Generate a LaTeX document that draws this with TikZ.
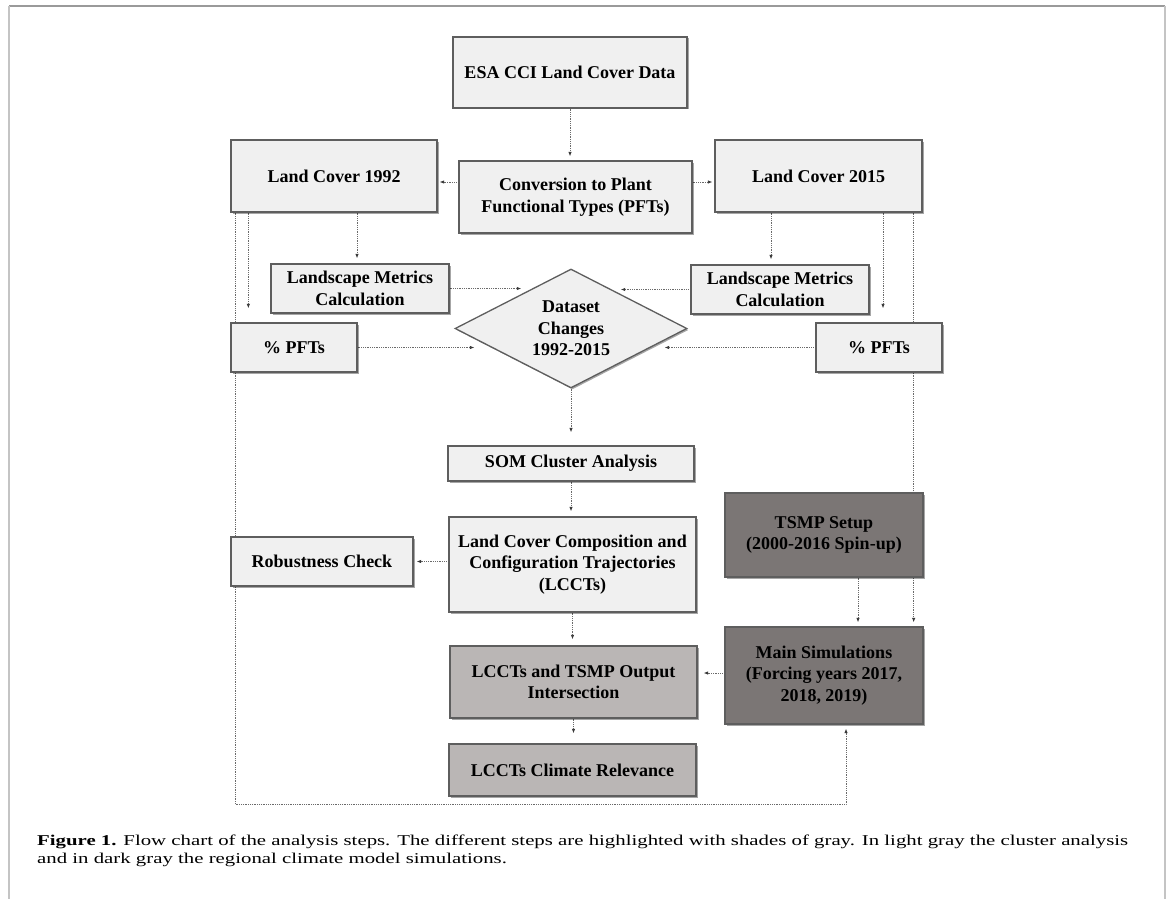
\documentclass[tikz,border=0pt]{standalone}
\usepackage{fontspec}
\setmainfont{Liberation Serif}
\usetikzlibrary{shapes.geometric,arrows.meta,shadows,backgrounds,calc}
\definecolor{boxlight}{HTML}{F0F0F0}
\definecolor{boxmid}{HTML}{BAB6B5}
\definecolor{boxdark}{HTML}{7B7675}
\definecolor{boxline}{HTML}{5E5E5E}
\definecolor{connline}{HTML}{6A6A6A}
\definecolor{tipcol}{HTML}{3A3A3A}
\definecolor{frametop}{HTML}{9A9A9A}
\definecolor{frameside}{HTML}{C4C4C4}
\newlength\capwd
\newcommand\capfont{\fontsize{15}{18}\selectfont}
\newcommand\captextA{\textbf{Figure 1.} Flow chart of the analysis steps. The different steps are highlighted with shades of gray. In light gray the cluster analysis}
\newcommand\captextB{and in dark gray the regional climate model simulations.}
\begin{document}
\settowidth\capwd{\capfont\captextA}%
\pgfmathsetmacro\capsc{1091/\capwd}%
\begin{tikzpicture}[x=1pt,y=-1pt,
  stepbox/.style={rectangle, draw=boxline, line width=1.3pt, inner sep=0pt, align=center,
    font=\fontsize{18}{21.6}\selectfont\bfseries,
    drop shadow={shadow xshift=1.5pt, shadow yshift=-1.5pt, fill=black, opacity=0.35}},
  lightbox/.style={stepbox, fill=boxlight},
  midbox/.style={stepbox, fill=boxmid},
  darkbox/.style={stepbox, fill=boxdark},
  conn/.style={draw=connline, line width=0.8pt, densely dotted,
    -{Latex[length=4.5pt,width=3.5pt,color=tipcol]}},
]
\useasboundingbox (0,0) rectangle (1171,899);

% frame
\draw[frametop, line width=1.5pt] (9,6) -- (1165,6);
\draw[frameside, line width=2pt] (9,6) -- (9,899);
\draw[frameside, line width=2pt] (1165,6) -- (1165,899);

% nodes
\node[lightbox, minimum width=234pt, minimum height=71pt] (esa) at (570,72.5) {ESA CCI Land Cover Data};
\node[lightbox, minimum width=233pt, minimum height=72pt] (conv) at (575.5,197) {Conversion to Plant\\Functional Types (PFTs)};
\node[lightbox, minimum width=206pt, minimum height=72pt] (lc92) at (334,176) {Land Cover 1992};
\node[lightbox, minimum width=207pt, minimum height=72pt] (lc15) at (818.5,176) {Land Cover 2015};
\node[lightbox, minimum width=178pt, minimum height=49pt] (lml) at (360,288.5) {Landscape Metrics\\Calculation};
\node[lightbox, minimum width=178pt, minimum height=49pt] (lmr) at (780,289.5) {Landscape Metrics\\Calculation};
\node[lightbox, diamond, aspect=1.95, minimum width=232pt, minimum height=119pt] (dia) at (571,328.5) {Dataset\\Changes\\1992-2015};
\node[lightbox, minimum width=126pt, minimum height=49pt] (pftl) at (294,347.5) {\% PFTs};
\node[lightbox, minimum width=126pt, minimum height=49pt] (pftr) at (879,347.5) {\% PFTs};
\node[lightbox, minimum width=246pt, minimum height=35pt] (som) at (571,463.5) {SOM Cluster Analysis};
\node[lightbox, minimum width=247pt, minimum height=95pt] (lcct) at (572.5,564.5) {Land Cover Composition and\\Configuration Trajectories\\(LCCTs)};
\node[lightbox, minimum width=182pt, minimum height=49pt] (rob) at (322,561.5) {Robustness Check};
\node[darkbox, minimum width=198pt, minimum height=84pt] (tsmp) at (824,535) {TSMP Setup\\(2000-2016 Spin-up)};
\node[darkbox, minimum width=198pt, minimum height=97pt] (main) at (824,675.5) {Main Simulations\\(Forcing years 2017,\\2018, 2019)};
\node[midbox, minimum width=247pt, minimum height=72pt] (inter) at (573.5,682) {LCCTs and TSMP Output\\Intersection};
\node[midbox, minimum width=247pt, minimum height=52pt] (clim) at (572.5,770) {LCCTs Climate Relevance};

% connectors
\begin{scope}[on background layer]
\draw[conn, shorten >=4pt] (esa.south) -- (esa.south |- conv.north);
\draw[conn, shorten >=2pt] ([yshift=15pt]conv.west) -- ([yshift=15pt]conv.west -| lc92.east);
\draw[conn, shorten >=2pt] ([yshift=15pt]conv.east) -- ([yshift=15pt]conv.east -| lc15.west);
\draw[conn, shorten >=5pt] ([xshift=-3pt]lml.north |- lc92.south) -- ([xshift=-3pt]lml.north);
\draw[conn, shorten >=14pt] ([xshift=18pt]lc92.south west) -- ([xshift=18pt]lc92.south west |- pftl.north);
\draw[conn, shorten >=4pt] ([xshift=5pt]lc92.south west) -- ++(0,592) -| ([xshift=22pt]main.south);
\draw[conn, shorten >=5pt] ([xshift=-9pt]lmr.north |- lc15.south) -- ([xshift=-9pt]lmr.north);
\draw[conn, shorten >=14pt] ([xshift=4pt]pftr.north |- lc15.south) -- ([xshift=4pt]pftr.north);
\draw[conn, shorten >=4pt] ([xshift=-9pt]lc15.south east) -- ([xshift=-9pt]lc15.south east |- main.north);
\draw[conn, shorten >=10pt] (lml.east) -- (lml.east -| dia.135);
\draw[conn, shorten >=10pt] (lmr.west) -- (lmr.west -| dia.45);
\draw[conn, shorten >=18pt] (pftl.east) -- (pftl.east -| dia.194);
\draw[conn, shorten >=15pt] (pftr.west) -- (pftr.west -| dia.346);
\draw[conn, shorten >=13pt] (dia.south) -- (dia.south |- som.north);
\draw[conn, shorten >=5pt] (som.south) -- (som.south |- lcct.north);
\draw[conn, shorten >=3pt] (lcct.west |- rob.east) -- (rob.east);
\draw[conn, shorten >=6pt] (lcct.south) -- (lcct.south |- inter.north);
\draw[conn, shorten >=4pt] ([xshift=34pt]tsmp.south) -- ([xshift=34pt]tsmp.south |- main.north);
\draw[conn, shorten >=6pt] ([yshift=2.5pt]main.west) -- ([yshift=2.5pt]main.west -| inter.east);
\draw[conn, shorten >=10pt] (inter.south) -- (inter.south |- clim.north);
\end{scope}

% caption
\node[anchor=base west, inner sep=0pt, font=\capfont] (cap1) at (37,845) {\scalebox{\capsc}[1]{\captextA}};
\node[anchor=base west, inner sep=0pt, font=\capfont] (cap2) at (37,863) {\scalebox{\capsc}[1]{\captextB}};
\end{tikzpicture}
\end{document}
